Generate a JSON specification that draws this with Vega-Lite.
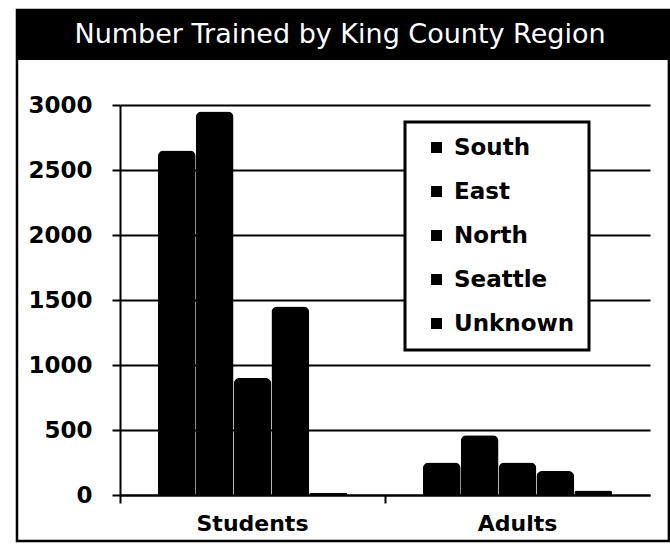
{
  "$schema": "https://vega.github.io/schema/vega-lite/v6.json",
  "background": "white",
  "padding": {"left": 15, "top": 8, "right": 2, "bottom": 2},
  "bounds": "flush",
  "spacing": 45,
  "config": {"font": "DejaVu Sans"},
  "vconcat": [
    {
      "width": 550,
      "height": 50,
      "view": {"stroke": null},
      "data": {"values": [{"t": "Number Trained by King County Region"}]},
      "layer": [
        {
          "mark": {"type": "rect", "color": "black"},
          "encoding": {
            "x": {"datum": -0.1873, "type": "quantitative", "scale": {"domain": [0, 1], "nice": false, "zero": false}, "axis": null},
            "x2": {"datum": 1}
          }
        },
        {
          "mark": {"type": "rect", "fill": null, "fillOpacity": 0, "stroke": "black", "strokeWidth": 2.5},
          "encoding": {
            "x": {"datum": -0.1873, "type": "quantitative"},
            "x2": {"datum": 0.998},
            "y": {"datum": 1, "type": "quantitative", "scale": {"domain": [0, 1], "nice": false, "zero": false}, "axis": null},
            "y2": {"datum": -9.62}
          }
        },
        {
          "mark": {"type": "text", "color": "white", "fontSize": 27, "font": "DejaVu Sans", "align": "center", "baseline": "middle"},
          "encoding": {
            "x": {"datum": 0.4, "type": "quantitative"},
            "y": {"datum": 0.5, "type": "quantitative"},
            "text": {"field": "t", "type": "nominal"}
          }
        }
      ]
    },
    {
      "width": 530,
      "height": 390,
      "view": {"stroke": null},
      "data": {
        "values": [
          {"group": "Students", "region": "South", "count": 2650},
          {"group": "Students", "region": "East", "count": 2950},
          {"group": "Students", "region": "North", "count": 900},
          {"group": "Students", "region": "Seattle", "count": 1450},
          {"group": "Students", "region": "Unknown", "count": 15},
          {"group": "Adults", "region": "South", "count": 250},
          {"group": "Adults", "region": "East", "count": 460},
          {"group": "Adults", "region": "North", "count": 250},
          {"group": "Adults", "region": "Seattle", "count": 185},
          {"group": "Adults", "region": "Unknown", "count": 35}
        ]
      },
      "mark": {"type": "bar", "cornerRadiusTopLeft": 6, "cornerRadiusTopRight": 6},
      "encoding": {
        "x": {
          "field": "group", "type": "nominal", "sort": ["Students", "Adults"],
          "scale": {"paddingInner": 0, "paddingOuter": 0},
          "axis": {"title": null, "labelAngle": 0, "labelFont": "DejaVu Sans", "labelFontWeight": "bold", "labelFontSize": 22, "labelColor": "black", "labelPadding": 10, "domainColor": "black", "domainWidth": 2, "tickColor": "black", "tickWidth": 2, "tickSize": 8, "bandPosition": 0}
        },
        "xOffset": {
          "field": "region", "type": "nominal", "sort": ["South", "East", "North", "Seattle", "Unknown"],
          "scale": {"paddingInner": 0, "paddingOuter": 1}
        },
        "y": {
          "field": "count", "type": "quantitative",
          "scale": {"domain": [0, 3000], "nice": false},
          "axis": {"title": null, "format": "d", "values": [0, 500, 1000, 1500, 2000, 2500, 3000], "labelFont": "DejaVu Sans", "labelFontWeight": "bold", "labelFontSize": 23, "labelColor": "black", "labelPadding": 20, "domainColor": "black", "domainWidth": 2, "tickColor": "black", "tickWidth": 2, "tickSize": 8, "gridColor": "black", "gridWidth": 2, "gridOpacity": 1}
        },
        "color": {
          "field": "region", "type": "nominal", "sort": ["South", "East", "North", "Seattle", "Unknown"],
          "scale": {"range": ["black", "black", "black", "black", "black"]},
          "legend": {
            "title": null, "orient": "none", "legendX": 285, "legendY": 112,
            "fillColor": "white", "strokeColor": "black",
            "padding": 14, "rowPadding": 20, "symbolType": "square", "symbolSize": 121,
            "symbolStrokeWidth": 0, "symbolOffset": 6,
            "labelFont": "DejaVu Sans", "labelFontWeight": "bold", "labelFontSize": 23, "labelColor": "black", "labelOffset": 6,
            "encode": {"legend": {"update": {"strokeWidth": {"value": 3}}}}
          }
        }
      }
    }
  ]
}
